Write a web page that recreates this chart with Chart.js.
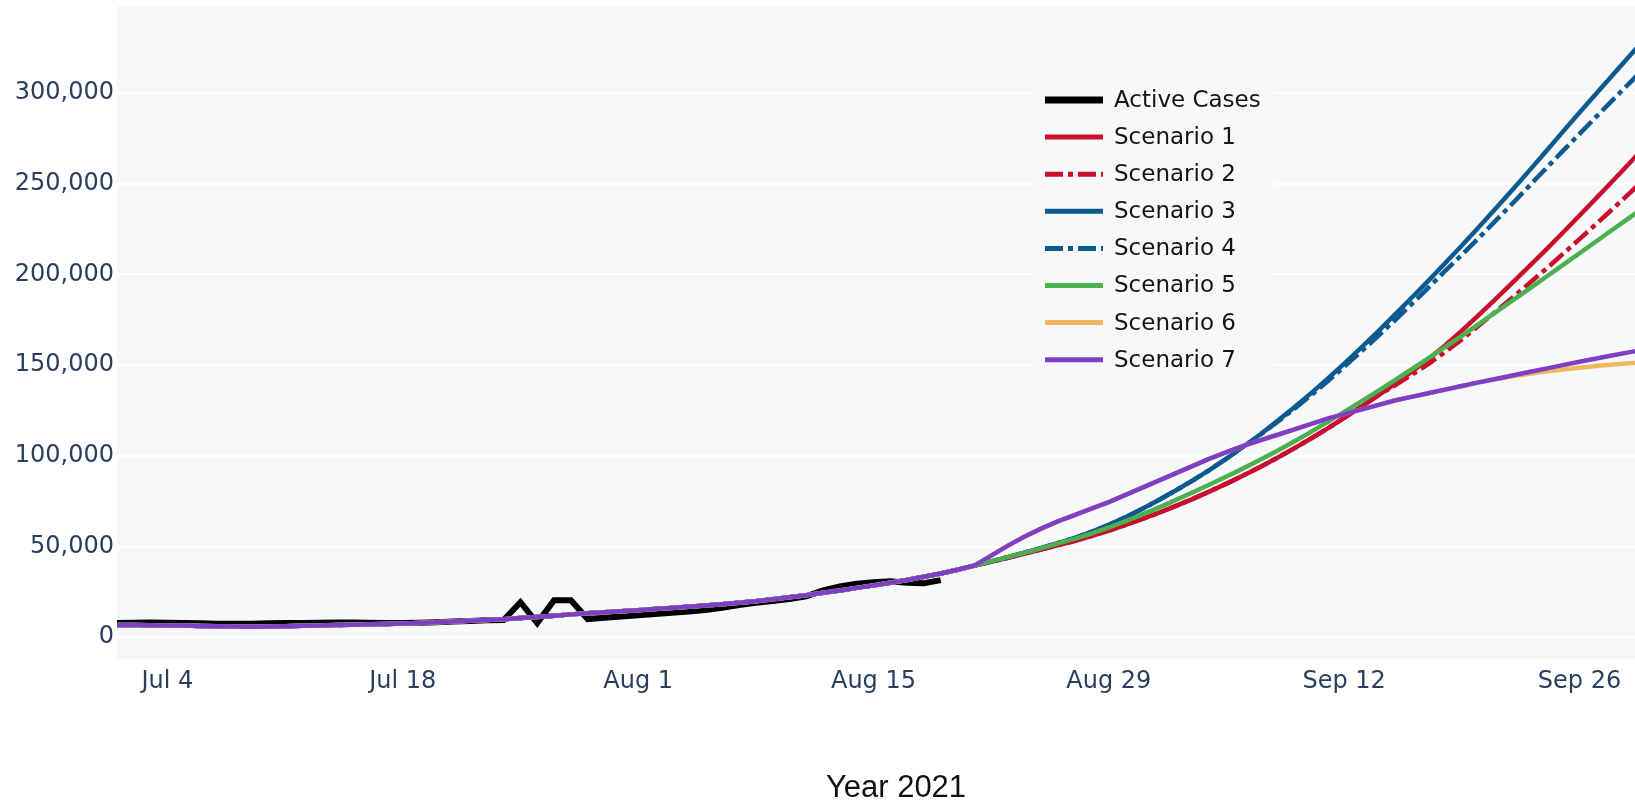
<!DOCTYPE html>
<html>
<head>
<meta charset="utf-8">
<script src="https://cdn.jsdelivr.net/npm/chart.js@4/dist/chart.umd.min.js"></script>
<style>
  html, body { margin: 0; padding: 0; background: #fff; }
</style>
</head>
<body>
<canvas id="chart" width="1635" height="806"></canvas>
<script>
// Day index: 0 = Jul 1 2021
const tickDays = [3, 17, 31, 45, 59, 73, 87];
const tickLabels = ['Jul 4', 'Jul 18', 'Aug 1', 'Aug 15', 'Aug 29', 'Sep 12', 'Sep 26'];
const yTicks = [0, 50000, 100000, 150000, 200000, 250000, 300000];

// reported active cases, Jul 1 .. Aug 19
const activeCases = [
  7900, 8000, 8100, 8000, 7900, 7700, 7500, 7400, 7500, 7700,
  7800, 7900, 8000, 8100, 8100, 8000, 7900, 7900, 8000, 8300,
  8700, 9000, 9300, 9500, 19300, 7800, 20400, 20400, 10000, 10700,
  11400, 12100, 12800, 13500, 14200, 15000, 16300, 17800, 19000, 20000,
  21000, 22500, 25800, 28000, 29500, 30300, 30800, 30000, 29800, 31500
];

// model fit shared by every scenario, Jul 1 .. Aug 20
const fitHistory = [
  6800, 6700, 6600, 6500, 6400, 6200, 6000, 5900, 5800, 5900,
  6100, 6300, 6500, 6700, 6900, 7100, 7300, 7600, 7900, 8300,
  8700, 9100, 9500, 9900, 10600, 11200, 11900, 12600, 13200, 13800,
  14300, 14900, 15500, 16100, 16800, 17500, 18200, 19000, 19900, 20900,
  22000, 23200, 24500, 25800, 27200, 28600, 30000, 31600, 33300, 35100,
  37200
];

// projections, Aug 21 .. Sep 30
const scenario1 = [
  39500, 41600, 43800, 46100, 48400, 50800, 53200, 55900, 58800, 61900,
  65200, 68700, 72400, 76300, 80400, 84700, 89200, 93900, 98800, 104000,
  109400, 115000, 121000, 127000, 133200, 139500, 146300, 153300, 160900, 169000,
  177600, 186400, 195300, 204400, 213600, 223000, 232500, 242100, 251800, 261600, 271600
];
const scenario2 = [
  39500, 41600, 43800, 46100, 48400, 50800, 53200, 55900, 58800, 61900,
  65200, 68700, 72400, 76300, 80400, 84700, 89200, 93900, 98800, 104000,
  109400, 115000, 121000, 127000, 133200, 138700, 144600, 150600, 157200, 164200,
  171700, 179400, 187100, 195000, 203000, 211200, 219500, 227900, 236400, 245000, 253800
];
const scenario3 = [
  39500, 41800, 44200, 46700, 49300, 52000, 54800, 58200, 62000, 66200,
  70800, 75800, 81000, 86500, 92300, 98500, 105000, 111800, 119000, 126500,
  134300, 142400, 150800, 159500, 168500, 177700, 187000, 196500, 206200, 216000,
  226000, 236200, 246600, 257100, 267800, 278600, 289300, 299800, 310200, 320700, 331200
];
const scenario4 = [
  39500, 41800, 44200, 46700, 49300, 52000, 54800, 58200, 62000, 66200,
  70800, 75800, 81000, 86500, 92300, 98500, 105000, 111500, 118500, 125700,
  133200, 141000, 149100, 157400, 165900, 174600, 183500, 192600, 201900, 210800,
  220000, 229500, 239000, 248700, 258400, 268000, 277500, 287000, 296400, 305800, 315200
];
const scenario5 = [
  39500, 41800, 44200, 46600, 49100, 51700, 54400, 57300, 60500, 64000,
  67700, 71600, 75700, 79900, 84200, 88600, 93100, 97800, 102700, 107800,
  113100, 118600, 124200, 129900, 135700, 141600, 147600, 153700, 159900, 166200,
  172600, 179100, 185600, 192100, 198600, 205100, 211700, 218300, 224900, 231500, 238100
];
const scenario6 = [
  39500, 45000, 50500, 55500, 60000, 64000, 67500, 71000, 74500, 78500,
  82500, 86500, 90500, 94500, 98500, 102000, 105500, 108500, 111500, 114500,
  117500, 120500, 123000, 125500, 128000, 130500, 132500, 134500, 136500, 138500,
  140500, 142200, 143800, 145200, 146500, 147600, 148600, 149500, 150300, 151000, 151600
];
const scenario7 = [
  39500, 45000, 50500, 55500, 60000, 64000, 67500, 71000, 74500, 78500,
  82500, 86500, 90500, 94500, 98500, 102000, 105500, 108500, 111500, 114500,
  117500, 120500, 123000, 125500, 128000, 130500, 132500, 134500, 136500, 138500,
  140500, 142400, 144300, 146200, 148100, 150000, 151900, 153700, 155500, 157200, 158900
];

const seriesNames = ['Active Cases', 'Scenario 1', 'Scenario 2', 'Scenario 3', 'Scenario 4', 'Scenario 5', 'Scenario 6', 'Scenario 7'];
const seriesColors = ['#000000', '#c8102e', '#c8102e', '#0e5a8e', '#0e5a8e', '#4caf50', '#efb860', '#7e3fc6'];

const PLOT_BG = '#f7f8fa';
const DASHDOT = [18, 5, 5, 5];

function toPoints(values, start) {
  return values.map((v, i) => ({ x: start + i, y: v }));
}
function scenarioPoints(proj) {
  return toPoints(fitHistory, 0).concat(toPoints(proj, fitHistory.length));
}

const projections = [scenario1, scenario2, scenario3, scenario4, scenario5, scenario6, scenario7];
const dashed = [false, true, false, true, false, false, false];

const datasets = [{
  label: seriesNames[0],
  data: toPoints(activeCases, 0),
  borderColor: seriesColors[0],
  borderWidth: 6,
  order: 7,
}];
projections.forEach((p, i) => {
  datasets.push({
    label: seriesNames[i + 1],
    data: scenarioPoints(p),
    borderColor: seriesColors[i + 1],
    borderWidth: 4.5,
    borderDash: dashed[i] ? DASHDOT : [],
    order: 6 - i, // last scenario ends up on top
  });
});
datasets.forEach(d => { d.pointRadius = 0; d.tension = 0; d.fill = false; });

// plot background
const plotBg = {
  id: 'plotBg',
  beforeDraw(chart) {
    const { ctx, chartArea: a } = chart;
    ctx.save();
    ctx.fillStyle = '#ffffff';
    ctx.fillRect(0, 0, chart.width, chart.height);
    ctx.fillStyle = PLOT_BG;
    ctx.fillRect(a.left, a.top, a.right - a.left, a.bottom - a.top);
    ctx.restore();
  }
};

// legend box inside the plot + axis title
const overlay = {
  id: 'overlay',
  afterDraw(chart) {
    const ctx = chart.ctx;
    ctx.save();
    ctx.fillStyle = PLOT_BG;
    ctx.fillRect(1033, 80, 240, 298);
    chart.data.datasets.forEach((ds, i) => {
      const y = 100 + i * 37.1;
      ctx.beginPath();
      ctx.strokeStyle = ds.borderColor;
      ctx.lineWidth = i === 0 ? 7 : 5;
      ctx.setLineDash(ds.borderDash || []);
      ctx.moveTo(1045, y);
      ctx.lineTo(1103, y);
      ctx.stroke();
      ctx.setLineDash([]);
      ctx.fillStyle = '#141414';
      ctx.font = '23px "DejaVu Sans"';
      ctx.textAlign = 'left';
      ctx.textBaseline = 'middle';
      ctx.fillText(ds.label, 1114, y + 1);
    });
    ctx.fillStyle = '#111111';
    ctx.font = '31px "Liberation Sans"';
    ctx.textAlign = 'center';
    ctx.textBaseline = 'middle';
    ctx.fillText('Year 2021', 896, 788);
    ctx.restore();
  }
};

const tickFont = { family: 'DejaVu Sans', size: 24 };
const tickColor = '#2a3f5f';

new Chart(document.getElementById('chart'), {
  type: 'line',
  data: { datasets },
  options: {
    responsive: false,
    animation: false,
    layout: { padding: { top: 6, right: 0, left: 0, bottom: 0 } },
    plugins: { legend: { display: false }, tooltip: { enabled: false } },
    scales: {
      x: {
        type: 'linear',
        min: 0,
        max: 90.3,
        afterBuildTicks(scale) { scale.ticks = tickDays.map(v => ({ value: v })); },
        afterFit(scale) {
          scale.height = 147;
          scale.paddingLeft = 0;
          scale.paddingRight = 0;
        },
        ticks: {
          autoSkip: false,
          maxRotation: 0,
          padding: 8,
          color: tickColor,
          font: tickFont,
          callback: v => tickLabels[tickDays.indexOf(v)] || '',
        },
        grid: { display: false, drawTicks: false },
        border: { display: false },
      },
      y: {
        min: -12000,
        max: 348000,
        afterBuildTicks(scale) { scale.ticks = yTicks.map(v => ({ value: v })); },
        afterFit(scale) {
          scale.width = 117;
          scale.paddingTop = 0;
          scale.paddingBottom = 0;
        },
        ticks: {
          padding: 3,
          color: tickColor,
          font: tickFont,
          callback: v => v.toLocaleString('en-US'),
        },
        grid: { color: '#ffffff', lineWidth: 2, drawTicks: false },
        border: { display: false },
      },
    },
  },
  plugins: [plotBg, overlay],
});
</script>
</body>
</html>
